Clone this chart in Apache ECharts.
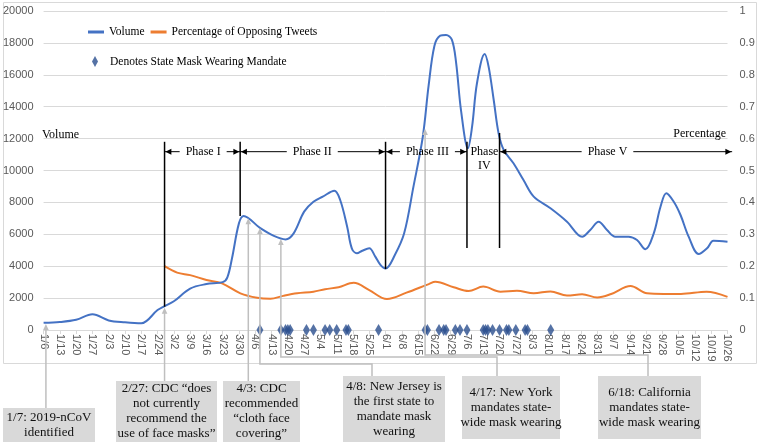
<!DOCTYPE html>
<html><head><meta charset="utf-8">
<script src="https://cdn.jsdelivr.net/npm/echarts@6/dist/echarts.min.js"></script>
<style>html,body{margin:0;padding:0;background:#fff}#c{width:760px;height:442px}</style>
</head><body><div id="c"></div>
<script>
// ---- data ----
const tickLabels = ['1/6','1/13','1/20','1/27','2/3','2/10','2/17','2/24','3/2','3/9','3/16','3/23','3/30','4/6','4/13','4/20','4/27','5/4','5/11','5/18','5/25','6/1','6/8','6/15','6/22','6/29','7/6','7/13','7/20','7/27','8/3','8/10','8/17','8/24','8/31','9/7','9/14','9/21','9/28','10/5','10/12','10/19','10/26'];
// day offsets from 1/6
const volumeDays = [0,7,14,21,28,35,42,49,52,56,63,70,77,79,81,84,86,93,99,104,107.5,112,116,120,125,127.5,130.5,132.5,134.7,137,140,142.6,144.8,147,151,155,159,163,165.5,168,170.5,173,175.5,177.3,179.5,182.4,184.2,186.3,189.6,191.3,193.5,195.6,197.8,202,206.3,210.7,217.9,225,231.5,235,238.6,242.2,245.8,251.5,255.1,258.7,262.3,265.2,267.7,270.9,273.8,277.3,281.6,285.2,288,294];
const volumeValues = [450,500,640,980,600,480,420,1250,1500,1800,2600,2880,3000,3300,4500,6700,7150,6400,5900,5680,6060,7420,8040,8360,8730,8150,6480,5120,4810,4970,5120,4600,4080,3850,4700,6060,8990,12100,15300,17800,18450,18500,18200,16800,13700,11390,12750,15470,17300,16510,14420,12330,11290,10450,9400,8360,7630,6790,5850,6270,6790,6270,5850,5850,5640,5060,6060,7730,8570,8040,7210,5850,4760,5120,5600,5540];
const pctDays = [52,57.4,63,70,76.7,84.6,91.8,97.5,103,109,116,121,126.8,133.3,140,147.6,156,165.6,168.4,176.3,182.7,189,196.4,203.5,210.7,217.9,225,231.5,238,244,252.3,259.4,266.6,274,285,294];
const pctValues = [0.2,0.18,0.172,0.157,0.146,0.115,0.101,0.098,0.107,0.115,0.12,0.128,0.134,0.148,0.125,0.097,0.117,0.144,0.151,0.134,0.122,0.136,0.12,0.123,0.115,0.121,0.108,0.112,0.102,0.113,0.138,0.115,0.113,0.113,0.12,0.104];
const mandateDays = [93,102,104,105,106,113,116,121,123,126,130,131,144,164,165,170,172,173,177,179,182,189,190,191,193,196,199,200,203,207,208,218];
const phaseNames = ['Phase I','Phase II','Phase III','Phase\nIV','Phase V'];
const phaseDays = [52,84.5,147,182,196];
const phaseLabelDays = [68.6,115.5,165,189.5,242.4];
const phaseTops = [11800,11800,11800,11800,12350];
const phaseBottoms = [1460,7150,3820,5140,5140];
const phaseArrowLevel = 11180;
const phaseEndDay = 296;
const eventDays = [1,52,88,93,102,164];
const eventTips = [380,1400,7000,6400,5700,12600];
const eventTexts = ['1/7: 2019-nCoV\nidentified','2/27: CDC “does\nnot currently\nrecommend the\nuse of face masks”','4/3: CDC\nrecommended\n“cloth face\ncovering”','4/8: New Jersey is\nthe first state to\nmandate mask\nwearing','4/17: New York\nmandates state-\nwide mask wearing','6/18: California\nmandates state-\nwide mask wearing'];

// ---- layout (pixels) ----
const boxes = [[3,408,92,34],[116,381,101,61],[223,381,77,61],[343,376,102,66],[462,376,98,63],[598,376,103,63]];
const elbows = [null,null,null,[364,372],[357,497],[355,648]];

const SERIF = '"Liberation Serif","Times New Roman",serif';
const SANS = '"Liberation Sans",Arial,sans-serif';
const BLUE = '#4472C4', ORANGE = '#ED7D31', MARK = '#2B4F8F', GRAY = '#bfbfbf';

const chart = echarts.init(document.getElementById('c'));
const option = {
  animation: false,
  backgroundColor: '#fff',
  grid: {left: 43.3, right: 32.5, top: 11, bottom: 112, containLabel: false},
  legend: [
    {left: 88, top: 26, padding: 0, itemWidth: 16, itemHeight: 3, itemGap: 6, icon: 'rect',
     textStyle: {fontFamily: SERIF, fontSize: 11.5, color: '#000'},
     data: ['Volume', 'Percentage of Opposing Tweets']},
    {left: 92, top: 55.5, padding: 0, itemWidth: 6, itemHeight: 11, icon: 'diamond',
     textStyle: {fontFamily: SERIF, fontSize: 11.5, color: '#000', padding: [0,0,0,7]},
     data: ['Denotes State Mask Wearing Mandate']}
  ],
  xAxis: {
    type: 'value', min: 0, max: 294, interval: 7,
    axisLine: {show: true, lineStyle: {color: '#d9d9d9'}},
    axisTick: {show: true, length: 4, lineStyle: {color: '#d9d9d9'}},
    splitLine: {show: false},
    axisLabel: {rotate: -90, margin: 4, color: '#595959', fontFamily: SANS, fontSize: 11,
      formatter: v => tickLabels[Math.round(v / 7)] || ''}
  },
  yAxis: [
    {type: 'value', min: 0, max: 20000, interval: 2000,
     axisLine: {show: false}, axisTick: {show: false},
     splitLine: {lineStyle: {color: '#d9d9d9'}},
     axisLabel: {margin: 10, color: '#595959', fontFamily: SANS, fontSize: 11, formatter: v => String(v)}},
    {type: 'value', min: 0, max: 1, interval: 0.1,
     axisLine: {show: false}, axisTick: {show: false}, splitLine: {show: false},
     axisLabel: {margin: 12, color: '#595959', fontFamily: SANS, fontSize: 11,
       formatter: v => String(Math.round(v * 10) / 10)}}
  ],
  series: [
    {name: 'Volume', type: 'line', yAxisIndex: 0, smooth: 0.35, symbol: 'none', z: 4,
     color: BLUE, lineStyle: {width: 2, color: BLUE},
     data: volumeDays.map((d, i) => [d, volumeValues[i]])},
    {name: 'Percentage of Opposing Tweets', type: 'line', yAxisIndex: 1, smooth: 0.35, symbol: 'none', z: 3,
     color: ORANGE, lineStyle: {width: 2, color: ORANGE},
     data: pctDays.map((d, i) => [d, pctValues[i]])},
    {name: 'Denotes State Mask Wearing Mandate', type: 'scatter', yAxisIndex: 0, symbol: 'diamond',
     symbolSize: [7, 12], color: MARK, itemStyle: {color: MARK}, z: 5,
     data: mandateDays.map(d => [d, 0])}
  ]
};
chart.setOption(option);

const P = (d, v) => chart.convertToPixel({xAxisIndex: 0, yAxisIndex: 0}, [d, v]);
const ctx = document.createElement('canvas').getContext('2d');
ctx.font = '12px ' + SERIF;
const tw = s => ctx.measureText(s).width;

const g = [];
// chart border
g.push({type: 'rect', shape: {x: 3.5, y: 2.5, width: 753, height: 361}, style: {fill: null, stroke: '#d9d9d9', lineWidth: 1}, silent: true, z: -1});
// axis titles
g.push({type: 'text', x: 42, y: 135, style: {text: 'Volume', font: '12px ' + SERIF, fill: '#000', verticalAlign: 'middle'}});
g.push({type: 'text', x: 726, y: 134, style: {text: 'Percentage', font: '12px ' + SERIF, fill: '#000', align: 'right', verticalAlign: 'middle'}});

function arrowHead(x, y, dir, color, len, half) {
  let pts;
  if (dir === 'l') pts = [[x, y], [x + len, y - half], [x + len, y + half]];
  else if (dir === 'r') pts = [[x, y], [x - len, y - half], [x - len, y + half]];
  else pts = [[x, y], [x - half, y + len], [x + half, y + len]];
  return {type: 'polygon', shape: {points: pts}, style: {fill: color}, z: 10};
}
// phase lines
const px = phaseDays.map(d => P(d, 0)[0]);
phaseDays.forEach((d, i) => {
  const a = P(d, phaseTops[i]), b = P(d, phaseBottoms[i]);
  g.push({type: 'line', shape: {x1: a[0], y1: a[1], x2: b[0], y2: b[1]}, style: {stroke: '#000', lineWidth: 1.5}, z: 10});
});
const ay = P(0, phaseArrowLevel)[1];
const endX = P(phaseEndDay, 0)[0];
phaseNames.forEach((name, i) => {
  const cx = P(phaseLabelDays[i], 0)[0];
  g.push({type: 'text', x: cx, y: ay - 7, style: {text: name, font: '12px ' + SERIF, fill: '#000', align: 'center', verticalAlign: 'top', lineHeight: 14}, z: 10});
  if (name.indexOf('\n') >= 0) return;
  const L = px[i], R = i + 1 < px.length ? px[i + 1] : endX;
  const hw = tw(name) / 2 + 6;
  g.push({type: 'line', shape: {x1: L, y1: ay, x2: cx - hw, y2: ay}, style: {stroke: '#000', lineWidth: 1}, z: 10});
  g.push({type: 'line', shape: {x1: cx + hw, y1: ay, x2: R, y2: ay}, style: {stroke: '#000', lineWidth: 1}, z: 10});
  g.push(arrowHead(L + 0.8, ay, 'l', '#000', 6, 3));
  g.push(arrowHead(R - 0.8, ay, 'r', '#000', 6, 3));
});
// event connectors and boxes
eventDays.forEach((d, i) => {
  const tip = P(d, eventTips[i]);
  const x = tip[0];
  const box = boxes[i];
  const pts = [[x, tip[1] + 5]];
  if (elbows[i]) {
    pts.push([x, elbows[i][0]], [elbows[i][1], elbows[i][0]], [elbows[i][1], box[1]]);
  } else {
    pts.push([x, box[1]]);
  }
  g.push({type: 'polyline', shape: {points: pts}, style: {stroke: GRAY, lineWidth: 1.5, fill: null}, z: 6});
  g.push(arrowHead(x, tip[1], 'u', GRAY, 6, 2.8));
  g.push({type: 'rect', shape: {x: box[0], y: box[1], width: box[2], height: box[3]}, style: {fill: '#d9d9d9'}, z: 7});
  g.push({type: 'text', x: box[0] + box[2] / 2, y: box[1] + box[3] / 2,
    style: {text: eventTexts[i], font: '13px ' + SERIF, fill: '#111', align: 'center', verticalAlign: 'middle', lineHeight: 15}, z: 8});
});
chart.setOption({graphic: {elements: g}});
</script></body></html>
